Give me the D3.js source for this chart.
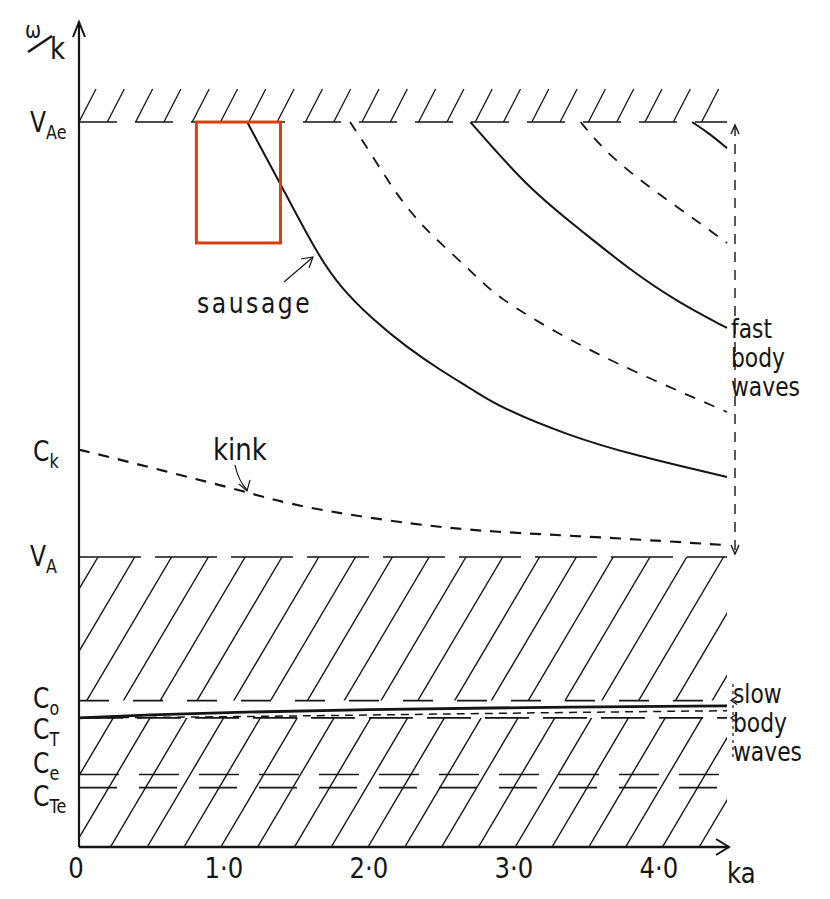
<!DOCTYPE html>
<html>
<head>
<meta charset="utf-8">
<script src="https://cdn.jsdelivr.net/npm/d3@7"></script>
<style>
body { margin: 0; background: #fff; }
text { font-family: "DejaVu Sans", sans-serif; fill: #151515; }
</style>
</head>
<body>
<svg id="chart" width="830" height="899"></svg>
<script>
// characteristic speeds on the w/k axis (in units of V_A)
var levelMain = ["V", "C", "V", "C", "C", "C", "C"];
var levelSub = ["Ae", "k", "A", "o", "T", "e", "Te"];
var levelValues = [2.5, 1.37, 1.0, 0.505, 0.445, 0.25, 0.205];

// x ticks (ka)
var xTicks = [0, 1, 2, 3, 4];
var xTickLabels = ["0", "1·0", "2·0", "3·0", "4·0"];

// fast body waves
var sausageKa = [1.16, 1.386, 1.64, 1.80, 2.03, 2.26, 2.49, 2.72, 2.90, 3.37, 3.82, 4.47];
var sausageV = [2.5, 2.29, 2.048, 1.931, 1.817, 1.724, 1.645, 1.576, 1.517, 1.42, 1.352, 1.276];
var fast2Ka = [1.87, 2.03, 2.17, 2.33, 2.49, 2.72, 2.88, 3.34, 3.80, 4.47];
var fast2V = [2.5, 2.379, 2.266, 2.162, 2.083, 1.979, 1.897, 1.759, 1.645, 1.50];
var fast3Ka = [2.70, 3.11, 3.46, 3.80, 4.14, 4.47];
var fast3V = [2.5, 2.266, 2.128, 1.99, 1.876, 1.79];
var fast4Ka = [3.46, 3.66, 4.03, 4.26, 4.47];
var fast4V = [2.5, 2.38, 2.24, 2.16, 2.083];
var fast5Ka = [4.23, 4.35, 4.47];
var fast5V = [2.5, 2.46, 2.41];

// kink (surface) wave
var kinkKa = [0, 0.21, 0.83, 1.18, 1.52, 2.33, 2.86, 3.59, 4.47];
var kinkV = [1.37, 1.345, 1.266, 1.221, 1.172, 1.110, 1.086, 1.069, 1.041];

// slow body waves
var slowKa = [0, 0.5, 1.0, 2.0, 3.0, 4.47];
var slowSolidV = [0.445, 0.456, 0.464, 0.474, 0.481, 0.487];
var slowDashV = [0.445, 0.447, 0.449, 0.455, 0.462, 0.47];

var svg = d3.select("#chart");
var ink = "#151515";

var x = d3.scaleLinear().domain([0, 4.47]).range([79, 727]);
var y = d3.scaleLinear().domain([0, 2.845]).range([847, 22]);

function zip(a, b) { return a.map(function(d, i) { return [d, b[i]]; }); }

var line = d3.line()
  .x(function(d) { return x(d[0]); })
  .y(function(d) { return y(d[1]); })
  .curve(d3.curveBasis);

// clip regions for the hatching
var defs = svg.append("defs");
defs.append("clipPath").attr("id", "clipTop")
  .append("rect").attr("x", x(0)).attr("y", y(2.5) - 34).attr("width", x(4.47) - x(0) - 6).attr("height", 34);
var cb = defs.append("clipPath").attr("id", "clipBottom");
cb.append("rect").attr("x", x(0)).attr("y", y(levelValues[2])).attr("width", x(4.47) - x(0)).attr("height", y(levelValues[3]) - y(levelValues[2]));
cb.append("rect").attr("x", x(0)).attr("y", y(levelValues[4])).attr("width", x(4.47) - x(0)).attr("height", y(0) - y(levelValues[4]));

// hatching above V_Ae : short strokes
var gTop = svg.append("g").attr("clip-path", "url(#clipTop)")
  .attr("stroke", ink).attr("stroke-width", 1.3);
d3.range(x(0), x(4.47), 28.3).forEach(function(px) {
  gTop.append("line")
    .attr("x1", px).attr("y1", y(2.5))
    .attr("x2", px + 17).attr("y2", y(2.5) - 33);
});

// hatching below V_A : long diagonals
var gBot = svg.append("g").attr("clip-path", "url(#clipBottom)")
  .attr("stroke", ink).attr("stroke-width", 1.4);
var rise = y(0) - y(levelValues[2]);
d3.range(98 - 36.8 * 5, x(4.47) + rise / 1.69 + 40, 36.8).forEach(function(top) {
  gBot.append("line")
    .attr("x1", top - rise / 1.69).attr("y1", y(0))
    .attr("x2", top).attr("y2", y(levelValues[2]));
});

// horizontal level lines
var levelDash = [null, null, "62,14", "30,24", "44,14", "40,20", "38,22"];
svg.append("line")
  .attr("x1", x(0)).attr("x2", x(4.47)).attr("y1", y(2.5)).attr("y2", y(2.5))
  .attr("stroke", ink).attr("stroke-width", 1.6).attr("stroke-dasharray", "38,18");
[2, 3, 4, 5, 6].forEach(function(i) {
  svg.append("line")
    .attr("x1", x(0)).attr("x2", x(4.47))
    .attr("y1", y(levelValues[i])).attr("y2", y(levelValues[i]))
    .attr("stroke", ink).attr("stroke-width", 1.7)
    .attr("stroke-dasharray", levelDash[i]);
});

// dispersion curves
var curves = [
  { d: zip(sausageKa, sausageV), dash: null, w: 2 },
  { d: zip(fast2Ka, fast2V), dash: "11,10", w: 1.8 },
  { d: zip(fast3Ka, fast3V), dash: null, w: 2 },
  { d: zip(fast4Ka, fast4V), dash: "11,10", w: 1.8 },
  { d: zip(fast5Ka, fast5V), dash: null, w: 2 },
  { d: zip(kinkKa, kinkV), dash: "11,9", w: 2.2 },
  { d: zip(slowKa, slowSolidV), dash: null, w: 2.8 },
  { d: zip(slowKa, slowDashV), dash: "8,6", w: 1.5 }
];
svg.selectAll(".curve")
  .data(curves)
  .enter().append("path")
  .attr("class", "curve")
  .attr("d", function(c) { return line(c.d); })
  .attr("fill", "none")
  .attr("stroke", ink)
  .attr("stroke-width", function(c) { return c.w; })
  .attr("stroke-dasharray", function(c) { return c.dash; });

// axes
svg.append("line").attr("x1", x(0)).attr("y1", y(0)).attr("x2", x(0)).attr("y2", y(2.845))
  .attr("stroke", ink).attr("stroke-width", 2.2);
svg.append("path").attr("d", "M" + (x(0) - 6) + "," + (y(2.845) + 15) + "L" + x(0) + "," + y(2.845) + "L" + (x(0) + 6) + "," + (y(2.845) + 15))
  .attr("fill", "none").attr("stroke", ink).attr("stroke-width", 2);
svg.append("line").attr("x1", x(0)).attr("y1", y(0)).attr("x2", 729).attr("y2", y(0))
  .attr("stroke", ink).attr("stroke-width", 2.4);
svg.append("path").attr("d", "M716,839L729,847L716,855")
  .attr("fill", "none").attr("stroke", ink).attr("stroke-width", 2);

// fast body wave range arrow
var ax = 735;
svg.append("line").attr("x1", ax).attr("x2", ax).attr("y1", y(2.5) + 4).attr("y2", y(1.0) - 4)
  .attr("stroke", ink).attr("stroke-width", 1.4).attr("stroke-dasharray", "10,8");
svg.append("path").attr("d", "M" + (ax - 4) + "," + (y(2.5) + 12) + "L" + ax + "," + (y(2.5) + 3) + "L" + (ax + 4) + "," + (y(2.5) + 12))
  .attr("fill", "none").attr("stroke", ink).attr("stroke-width", 1.4);
svg.append("path").attr("d", "M" + (ax - 4) + "," + (y(1.0) - 12) + "L" + ax + "," + (y(1.0) - 3) + "L" + (ax + 4) + "," + (y(1.0) - 12))
  .attr("fill", "none").attr("stroke", ink).attr("stroke-width", 1.4);
// slow body wave range marker
svg.append("line").attr("x1", 733).attr("x2", 733).attr("y1", 684).attr("y2", 758)
  .attr("stroke", ink).attr("stroke-width", 1.2).attr("stroke-dasharray", "3,4");
[levelValues[3], levelValues[4]].forEach(function(v) {
  svg.append("path").attr("d", "M737," + (y(v) - 4) + "L731," + y(v) + "L737," + (y(v) + 4))
    .attr("fill", "none").attr("stroke", ink).attr("stroke-width", 1.3);
});

// text helper, narrow lettering
function label(px, py, main, sub, size, subSize, anchor, spacing) {
  var t = svg.append("text")
    .attr("transform", "translate(" + px + "," + py + ") scale(0.84,1)")
    .attr("font-size", size)
    .attr("letter-spacing", spacing || 0)
    .attr("text-anchor", anchor || "start");
  t.append("tspan").text(main);
  if (sub) t.append("tspan").attr("font-size", subSize).attr("dy", subSize * 0.35).text(sub);
  return t;
}

// y level labels
var labelY = [132, 461, 566, 708, 739, 773, 806];
levelMain.forEach(function(m, i) {
  label(i == 0 || i == 2 ? 30 : 33, labelY[i], m, levelSub[i], 28, 19);
});

// x tick labels
xTicks.forEach(function(t, i) {
  label(x(t) - (i == 0 ? 3 : 0), 878, xTickLabels[i], null, 29, 0, "middle");
});
label(727, 883, "ka", null, 29, 0);

// w/k axis title
label(25, 38, "ω", null, 23, 0);
svg.append("line").attr("x1", 28).attr("y1", 52).attr("x2", 52).attr("y2", 36)
  .attr("stroke", ink).attr("stroke-width", 2.4);
label(50, 59, "k", null, 31, 0);

// annotations
label(197, 313, "sausage", null, 28, 0, "start", 3);
svg.append("line").attr("x1", 284).attr("y1", 282).attr("x2", 312).attr("y2", 258)
  .attr("stroke", ink).attr("stroke-width", 1.2);
svg.append("path").attr("d", "M301,259L313,257L309,268").attr("fill", "none").attr("stroke", ink).attr("stroke-width", 1.2);

label(213, 460, "kink", null, 31, 0);
svg.append("path").attr("d", "M235,465Q238,480 247,490").attr("fill", "none").attr("stroke", ink).attr("stroke-width", 1.2);
svg.append("path").attr("d", "M239,484L247,491L250,480").attr("fill", "none").attr("stroke", ink).attr("stroke-width", 1.2);

["fast", "body", "waves"].forEach(function(s, i) {
  label(731, 338 + i * 29, s, null, 26, 0);
});
["slow", "body", "waves"].forEach(function(s, i) {
  label(733, 703 + i * 29, s, null, 26, 0);
});

// highlighted region
svg.append("rect")
  .attr("x", x(0.81)).attr("y", y(2.5))
  .attr("width", x(1.39) - x(0.81)).attr("height", y(2.083) - y(2.5))
  .attr("fill", "none").attr("stroke", "#d9400f").attr("stroke-width", 3);
</script>
</body>
</html>
